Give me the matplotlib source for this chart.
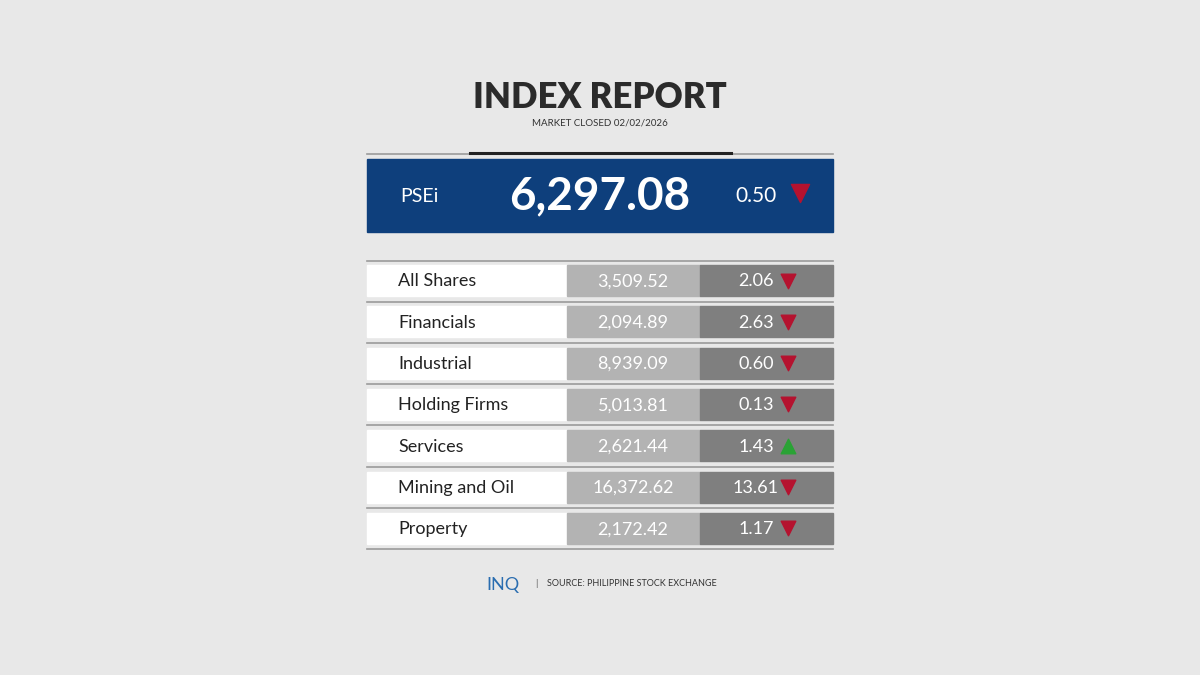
import matplotlib
matplotlib.use("Agg")
import matplotlib.pyplot as plt
from matplotlib.patches import Rectangle

categories = ["All Shares", "Financials", "Industrial", "Holding Firms", "Services", "Mining and Oil", "Property"]
values = ["3,509.52", "2,094.89", "8,939.09", "5,013.81", "2,621.44", "16,372.62", "2,172.42"]
changes = ["2.06", "2.63", "0.60", "0.13", "1.43", "13.61", "1.17"]
directions = ["down", "down", "down", "down", "up", "down", "down"]
psei_value = "6,297.08"
psei_change = "0.50"
psei_dir = "down"

FONT = ["Lato", "DejaVu Sans"]
RED, GREEN = "#b5122f", "#2aa335"

fig = plt.figure(figsize=(12, 6.75), dpi=100)
fig.patch.set_facecolor("#e8e8e8")
ax = fig.add_axes([0, 0, 1, 1])
ax.set_xlim(0, 1200); ax.set_ylim(675, 0); ax.axis("off")

ax.text(600, 97, "INDEX REPORT", ha="center", va="center", fontsize=25, fontweight="heavy", color="#2b2b2b", family=FONT)
ax.text(600, 123, "MARKET CLOSED 02/02/2026", ha="center", va="center", fontsize=7, color="#333333", family=FONT)
ax.plot([367, 833], [153.5, 153.5], color="#9a9a9a", lw=1.2)
ax.plot([470, 731], [152.5, 152.5], color="#222222", lw=2.2)

ax.add_patch(Rectangle((367, 159), 466, 73, color="#0e3f7c"))
ax.text(400, 196, "PSEi", ha="left", va="center", fontsize=14, color="white", family=FONT)
ax.text(600, 196, psei_value, ha="center", va="center", fontsize=33, fontweight="bold", color="white", family=FONT)
ax.text(735, 196, psei_change, ha="left", va="center", fontsize=15, color="white", family=FONT)
ax.scatter([800], [193], marker="v" if psei_dir == "down" else "^", s=170, color=RED if psei_dir == "down" else GREEN, zorder=5)

top, pitch, h = 265, 41.3, 31
ax.plot([367, 833], [260.5, 260.5], color="#9a9a9a", lw=1.2)
for i, (c, v, ch, d) in enumerate(zip(categories, values, changes, directions)):
    y = top + i * pitch
    ax.add_patch(Rectangle((367, y), 200, h, color="white"))
    ax.add_patch(Rectangle((567, y), 133, h, color="#b3b3b3"))
    ax.add_patch(Rectangle((700, y), 133, h, color="#7f7f7f"))
    ax.plot([367, 833], [y + h + 5.5, y + h + 5.5], color="#9a9a9a", lw=1.2)
    yc = y + h / 2 + 1
    ax.text(398, yc, c, ha="left", va="center", fontsize=13, color="#222222", family=FONT)
    ax.text(633, yc, v, ha="center", va="center", fontsize=13, color="white", family=FONT)
    ax.text(756, yc, ch, ha="center", va="center", fontsize=13, color="white", family=FONT)
    ax.scatter([788], [yc - 1], marker="v" if d == "down" else "^", s=110,
               color=RED if d == "down" else GREEN, zorder=5)

ax.text(503, 585, "INQ", ha="center", va="center", fontsize=13, color="#2a6db0", family=FONT)
ax.text(536, 584, "|", ha="center", va="center", fontsize=7, color="#555555", family=FONT)
ax.text(547, 584, "SOURCE: PHILIPPINE STOCK EXCHANGE", ha="left", va="center", fontsize=6.5, color="#333333", family=FONT)

fig.savefig("out.png", dpi=100, facecolor=fig.get_facecolor())
